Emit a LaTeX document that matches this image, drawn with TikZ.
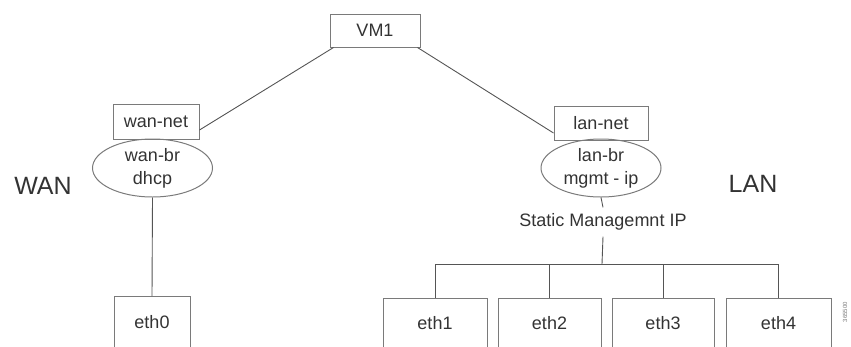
\documentclass[tikz,border=0pt]{standalone}
\usepackage{fontspec}
\setmainfont{Liberation Sans}
\usetikzlibrary{shapes.geometric}
\definecolor{txt}{HTML}{333333}
\definecolor{frame}{HTML}{7A7A7A}
\definecolor{wire}{HTML}{555555}
\tikzset{
  box/.style={draw=frame, line width=1pt, rectangle, inner sep=0pt, text=txt,
    font=\fontsize{18}{23}\selectfont},
  oval/.style={draw=frame, line width=1pt, ellipse, inner sep=0pt, align=center,
    minimum width=120pt, minimum height=58pt, text=txt, font=\fontsize{18}{23}\selectfont},
  ethbox/.style={draw=frame, line width=1pt, rectangle, inner sep=0pt, anchor=north,
    minimum height=104pt},
  ethlabel/.style={text=txt, font=\fontsize{18}{22}\selectfont, inner sep=0pt},
  side/.style={text=txt, font=\fontsize{25}{30}\selectfont, inner sep=0pt},
  wire/.style={draw=wire, line width=0.9pt},
}
\begin{document}
\begin{tikzpicture}[x=1pt,y=-1pt]
\useasboundingbox (0,0) rectangle (851,346);
\clip (0,0) rectangle (851,346);
% top
\node[box, minimum width=90pt, minimum height=33pt] (vm1) at (375,30.5) {VM1};
% WAN side
\node[box, minimum width=86pt, minimum height=35pt] (wannet) at (156,121.5) {wan-net};
\node[oval] (wanbr) at (152.5,168) {wan-br\\dhcp};
\node[side] (wan) at (43,186) {WAN};
\node[ethbox, minimum width=76pt] (eth0) at (152,296) {};
\node[ethlabel] (eth0t) at ([yshift=-26]eth0.north) {eth0};
% LAN side
\node[box, minimum width=94pt, minimum height=34pt] (lannet) at (601,123) {lan-net};
\node[oval] (lanbr) at (601,168) {lan-br\\mgmt - ip};
\node[side] (lan) at (753,184) {LAN};
\node[ethlabel, inner sep=6pt] (static) at (603,222) {Static Managemnt IP};
\coordinate (bus) at (602,264);
\node[ethbox, minimum width=104pt] (eth1) at (435,298) {};
\node[ethbox, minimum width=103pt] (eth2) at (549.5,298) {};
\node[ethbox, minimum width=102pt] (eth3) at (663,298) {};
\node[ethbox, minimum width=105pt] (eth4) at (778.5,298) {};
\node[ethlabel] (eth1t) at ([yshift=-25]eth1.north) {eth1};
\node[ethlabel] (eth2t) at ([yshift=-25]eth2.north) {eth2};
\node[ethlabel] (eth3t) at ([yshift=-25]eth3.north) {eth3};
\node[ethlabel] (eth4t) at ([yshift=-25]eth4.north) {eth4};
% figure id
\node[rotate=90, text=frame, font=\fontsize{6}{7}\selectfont, inner sep=0pt] (figid) at (845,312) {365500};
% connectors
\draw[wire] ([xshift=4]vm1.south west) -- ([yshift=-8.5]wannet.east);
\draw[wire] ([xshift=-3]vm1.south east) -- ([yshift=-10]lannet.west);
\draw[wire] (wanbr.south) -- (eth0.north);
\draw[wire] (lanbr.south) -- (static.north);
\draw[wire] (static.south) -- (bus);
\draw[wire] (bus) -| (eth1.north);
\draw[wire] (bus) -| (eth2.north);
\draw[wire] (bus) -| (eth3.north);
\draw[wire] (bus) -| (eth4.north);
\end{tikzpicture}
\end{document}
